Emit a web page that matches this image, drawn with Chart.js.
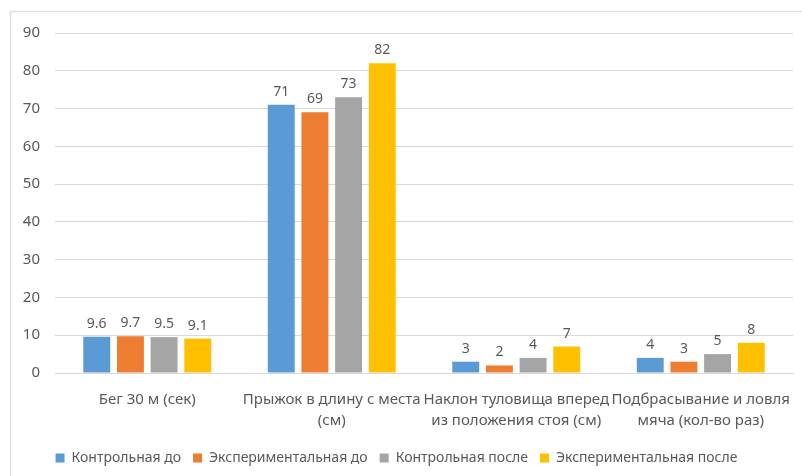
<!DOCTYPE html>
<html>
<head>
<meta charset="utf-8">
<script src="https://cdn.jsdelivr.net/npm/chart.js@4"></script>
<style>
  html, body { margin: 0; padding: 0; background: #fff; }
  #wrap { width: 802px; height: 476px; position: relative; }
</style>
</head>
<body>
<div id="wrap"><canvas id="c" width="802" height="476"></canvas></div>
<script>
// Test categories (multi-line labels)
const categories = [
  ["Бег 30 м (сек)"],
  ["Прыжок в длину с места", "(см)"],
  ["Наклон туловища вперед", "из положения стоя (см)"],
  ["Подбрасывание и ловля", "мяча (кол-во раз)"]
];
const seriesNames = ["Контрольная до", "Экспериментальная до", "Контрольная после", "Экспериментальная после"];
const controlBefore = [9.6, 71, 3, 4];
const experimentalBefore = [9.7, 69, 2, 3];
const controlAfter = [9.5, 73, 4, 5];
const experimentalAfter = [9.1, 82, 7, 8];
const seriesColors = ["#5B9BD5", "#ED7D31", "#A5A5A5", "#FFC000"];
const yTicks = [0, 10, 20, 30, 40, 50, 60, 70, 80, 90];

const FONT = "'Noto Sans', 'Open Sans', sans-serif";
const TEXT = "#595959";

// Value labels drawn above every bar
const valueLabels = {
  id: "valueLabels",
  afterDatasetsDraw(chart) {
    const ctx = chart.ctx;
    ctx.save();
    ctx.font = "14px " + FONT;
    ctx.fillStyle = TEXT;
    ctx.textAlign = "center";
    ctx.textBaseline = "bottom";
    chart.data.datasets.forEach((ds, i) => {
      chart.getDatasetMeta(i).data.forEach((bar, j) => {
        ctx.fillText(String(ds.data[j]), bar.x, bar.y - 6);
      });
    });
    ctx.restore();
  }
};

// Frame line along the top and left edges
const frame = {
  id: "frame",
  beforeDraw(chart) {
    const ctx = chart.ctx;
    ctx.save();
    ctx.fillStyle = "#fff";
    ctx.fillRect(0, 0, chart.width, chart.height);
    ctx.strokeStyle = "#dedede";
    ctx.lineWidth = 1.5;
    ctx.beginPath();
    ctx.moveTo(10.5, chart.height);
    ctx.lineTo(10.5, 11.5);
    ctx.lineTo(chart.width, 11.5);
    ctx.stroke();
    ctx.restore();
  }
};

const datasets = [controlBefore, experimentalBefore, controlAfter, experimentalAfter].map((d, i) => ({
  label: seriesNames[i],
  data: d,
  backgroundColor: seriesColors[i],
  categoryPercentage: 0.73,
  barPercentage: 0.8
}));

new Chart(document.getElementById("c"), {
  type: "bar",
  data: { labels: categories, datasets },
  options: {
    responsive: false,
    animation: false,
    layout: { padding: { top: 33, right: 9, left: 0, bottom: 1 } },
    scales: {
      x: {
        grid: { display: false },
        border: { display: true, color: "#d9d9d9" },
        ticks: { color: TEXT, font: { family: FONT, size: 15, lineHeight: 1.4 }, maxRotation: 0, autoSkip: false, padding: 8 }
      },
      y: {
        min: 0, max: 90,
        afterBuildTicks(scale) { scale.ticks = yTicks.map(v => ({ value: v })); },
        afterFit(scale) { scale.width = 55; },
        grid: { color: "#d9d9d9", drawTicks: false },
        border: { display: false },
        ticks: { color: TEXT, font: { family: FONT, size: 15 }, padding: 15 }
      }
    },
    plugins: {
      legend: {
        position: "bottom",
        labels: { color: TEXT, font: { family: FONT, size: 14 }, boxWidth: 9, boxHeight: 9, padding: 12 }
      },
      tooltip: { enabled: false }
    }
  },
  plugins: [frame, valueLabels]
});
</script>
</body>
</html>
